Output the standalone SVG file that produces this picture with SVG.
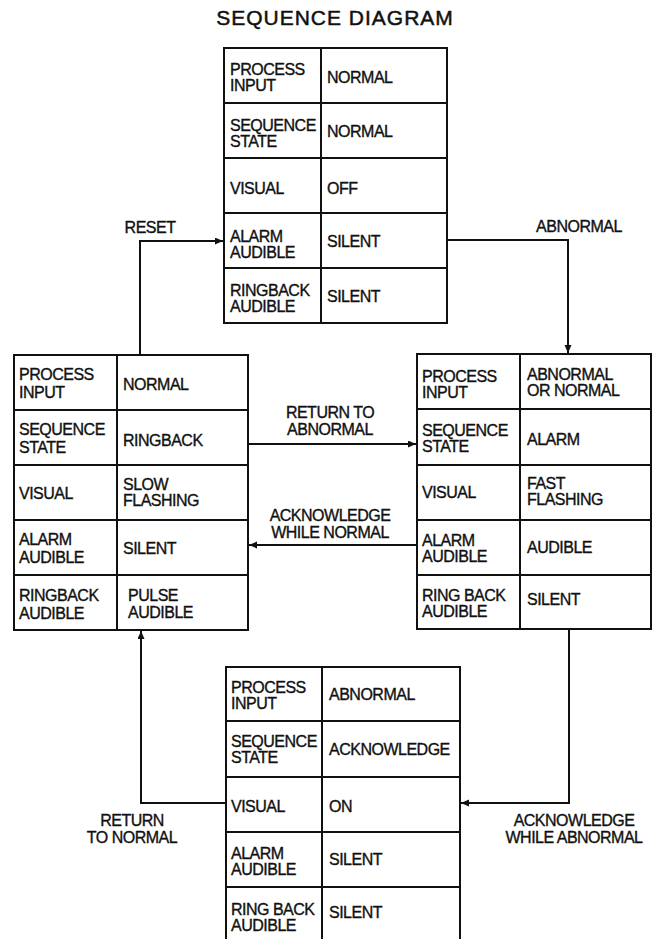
<svg xmlns="http://www.w3.org/2000/svg" width="654" height="939" viewBox="0 0 654 939">
<style>
text{font-family:"Liberation Sans",Arial,sans-serif;font-size:16px;letter-spacing:-0.5px;fill:#111;stroke:#111;stroke-width:0.35px}
.title{font-size:21px;letter-spacing:1px;text-anchor:middle;stroke-width:0.5px}
.c{text-anchor:middle}
.box{fill:#fff;stroke:#111;stroke-width:2}
.ln{stroke:#111;stroke-width:2;fill:none}
.conn{stroke:#111;stroke-width:2;fill:none;marker-end:url(#ah)}
</style>
<defs>
<marker id="ah" markerUnits="userSpaceOnUse" markerWidth="9" markerHeight="8" refX="8" refY="3.5" orient="auto">
<path d="M0,0 L8,3.5 L0,7 z" fill="#111"/>
</marker>
</defs>
<rect width="654" height="939" fill="#fff"/>
<text class="title" x="335" y="25">SEQUENCE DIAGRAM</text>

<g id="connectors">
<polyline class="conn" points="140,355 140,241 223,241"/>
<polyline class="conn" points="447,240 568,240 568,353"/>
<line class="conn" x1="248" y1="444" x2="416" y2="444"/>
<line class="conn" x1="417" y1="545" x2="249" y2="545"/>
<polyline class="conn" points="226,803 141,803 141,631"/>
<polyline class="conn" points="569,629 569,803 461,803"/>
<text class="c" x="150" y="233">RESET</text>
<text class="c" x="579" y="232">ABNORMAL</text>
<text class="c" x="330" y="418">RETURN TO</text>
<text class="c" x="330" y="435">ABNORMAL</text>
<text class="c" x="330" y="521">ACKNOWLEDGE</text>
<text class="c" x="330" y="538">WHILE NORMAL</text>
<text class="c" x="132" y="826">RETURN</text>
<text class="c" x="132" y="843">TO NORMAL</text>
<text class="c" x="574" y="826">ACKNOWLEDGE</text>
<text class="c" x="574" y="843">WHILE ABNORMAL</text>
</g>

<g id="state-normal">
<rect class="box" x="224" y="48" width="223" height="275"/>
<path class="ln" d="M321,48V323M224,103H447M224,158H447M224,213H447M224,268H447"/>
<text x="230" y="75">PROCESS</text><text x="230" y="91">INPUT</text><text x="327" y="83">NORMAL</text>
<text x="230" y="131">SEQUENCE</text><text x="230" y="147">STATE</text><text x="327" y="137">NORMAL</text>
<text x="230" y="194">VISUAL</text><text x="327" y="194">OFF</text>
<text x="230" y="242">ALARM</text><text x="230" y="258">AUDIBLE</text><text x="327" y="247">SILENT</text>
<text x="230" y="296">RINGBACK</text><text x="230" y="312">AUDIBLE</text><text x="327" y="302">SILENT</text>
</g>

<g id="state-ringback">
<rect class="box" x="14" y="355" width="234" height="275"/>
<path class="ln" d="M117,355V630M14,410H248M14,465H248M14,520H248M14,575H248"/>
<text x="19" y="380">PROCESS</text><text x="19" y="398">INPUT</text><text x="123" y="390">NORMAL</text>
<text x="19" y="435">SEQUENCE</text><text x="19" y="453">STATE</text><text x="123" y="446">RINGBACK</text>
<text x="19" y="499">VISUAL</text><text x="123" y="490">SLOW</text><text x="123" y="506">FLASHING</text>
<text x="19" y="545">ALARM</text><text x="19" y="563">AUDIBLE</text><text x="123" y="554">SILENT</text>
<text x="19" y="601">RINGBACK</text><text x="19" y="619">AUDIBLE</text><text x="128" y="601">PULSE</text><text x="128" y="618">AUDIBLE</text>
</g>

<g id="state-alarm">
<rect class="box" x="417" y="354" width="234" height="275"/>
<path class="ln" d="M520,354V629M417,409H651M417,465H651M417,520H651M417,575H651"/>
<text x="422" y="382">PROCESS</text><text x="422" y="398">INPUT</text><text x="527" y="380">ABNORMAL</text><text x="527" y="396">OR NORMAL</text>
<text x="422" y="436">SEQUENCE</text><text x="422" y="452">STATE</text><text x="527" y="445">ALARM</text>
<text x="422" y="498">VISUAL</text><text x="527" y="489">FAST</text><text x="527" y="505">FLASHING</text>
<text x="422" y="546">ALARM</text><text x="422" y="562">AUDIBLE</text><text x="527" y="553">AUDIBLE</text>
<text x="422" y="601">RING BACK</text><text x="422" y="617">AUDIBLE</text><text x="527" y="605">SILENT</text>
</g>

<g id="state-acknowledge">
<rect class="box" x="226" y="667" width="234" height="280"/>
<path class="ln" d="M322,667V947M226,721H460M226,777H460M226,832H460M226,887H460"/>
<text x="231" y="693">PROCESS</text><text x="231" y="709">INPUT</text><text x="329" y="700">ABNORMAL</text>
<text x="231" y="747">SEQUENCE</text><text x="231" y="763">STATE</text><text x="329" y="755">ACKNOWLEDGE</text>
<text x="231" y="812">VISUAL</text><text x="329" y="812">ON</text>
<text x="231" y="859">ALARM</text><text x="231" y="875">AUDIBLE</text><text x="329" y="865">SILENT</text>
<text x="231" y="915">RING BACK</text><text x="231" y="931">AUDIBLE</text><text x="329" y="918">SILENT</text>
</g>
</svg>
